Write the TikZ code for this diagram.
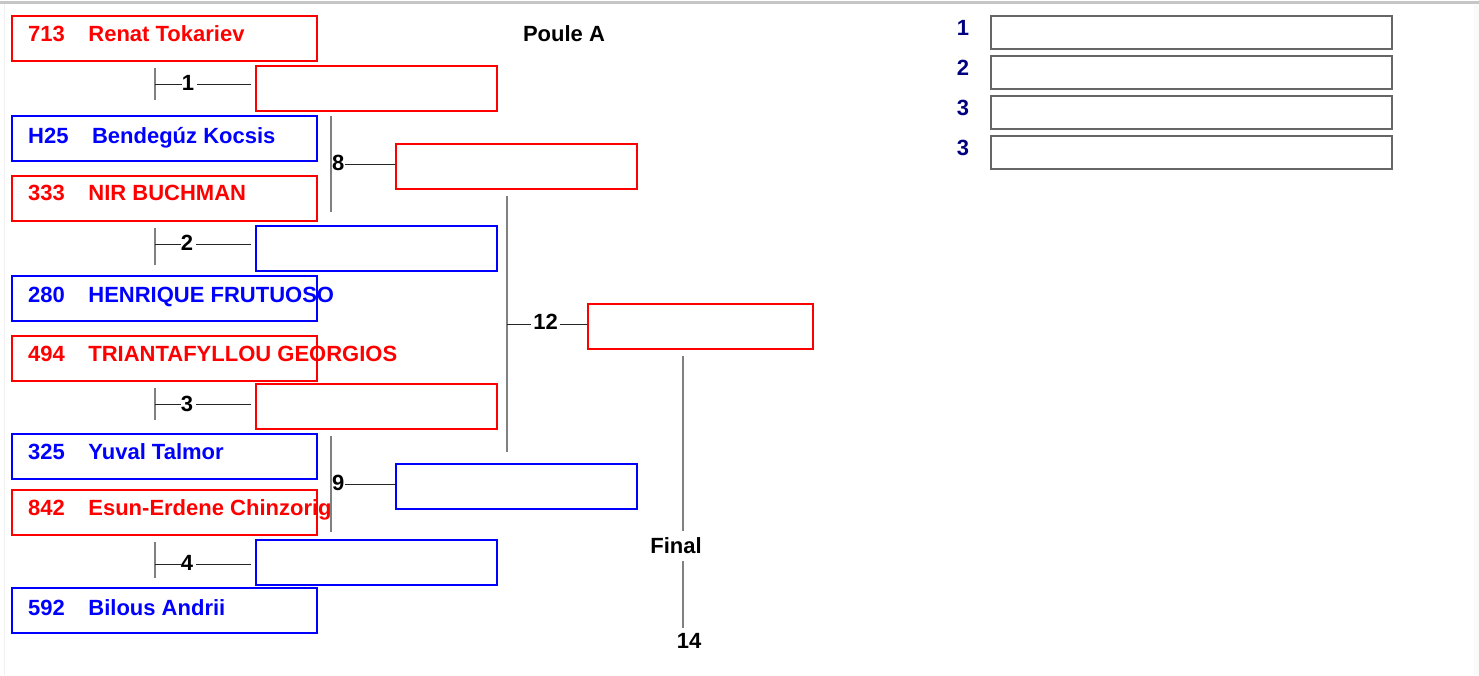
\documentclass[tikz,border=0pt]{standalone}
\usepackage{fontspec}
\setmainfont{Liberation Sans}
\usetikzlibrary{calc}
\definecolor{pred}{RGB}{255,0,0}
\definecolor{pblue}{RGB}{0,0,255}
\definecolor{navy}{RGB}{0,0,128}
\definecolor{lgray}{RGB}{128,128,128}
\definecolor{bgray}{RGB}{102,102,102}
\begin{document}
\begin{tikzpicture}[x=1pt,y=-1pt,
  txt/.style={font=\fontsize{22}{26}\selectfont\bfseries, inner sep=0pt},
  pbox/.style={draw, line width=2pt, minimum width=305pt, minimum height=45pt, anchor=north west, inner sep=0pt},
  wbox/.style={draw, line width=2pt, minimum width=241pt, minimum height=45pt, anchor=north west, inner sep=0pt},
  rbox/.style={draw=bgray, line width=2pt, minimum width=401pt, minimum height=33pt, anchor=north west, inner sep=0pt},
  gline/.style={draw=lgray, line width=1.5pt},
  hline/.style={draw=black!85, line width=1pt},
  ptxt/.style={txt, anchor=base west},
  lbl/.style={txt, text=black},
  rank/.style={txt, text=navy}]
\useasboundingbox (0,0) rectangle (1479,675);
\fill[white] (0,0) rectangle (1479,675);
\fill[gray!4] (1474,4) rectangle (1479,675);
\draw[gray!45, line width=2.5pt] (0,2.5) -- (1479,2.5);
\draw[gray!12, line width=1pt] (4,4) -- (4,675);

% player texts
\node[ptxt, text=pred]  (t1) at (28,41)    {713\hspace{23.5pt}Renat Tokariev};
\node[ptxt, text=pblue] (t2) at (28,143)   {H25\hspace{23.5pt}Bendegúz Kocsis};
\node[ptxt, text=pred]  (t3) at (28,200.5) {333\hspace{23.5pt}NIR BUCHMAN};
\node[ptxt, text=pblue] (t4) at (28,302.5) {280\hspace{23.5pt}HENRIQUE FRUTUOSO};
\node[ptxt, text=pred]  (t5) at (28,361.5) {494\hspace{23.5pt}TRIANTAFYLLOU GEORGIOS};
\node[ptxt, text=pblue] (t6) at (28,459.5) {325\hspace{23.5pt}Yuval Talmor};
\node[ptxt, text=pred]  (t7) at (28,515.5) {842\hspace{23.5pt}Esun-Erdene Chinzorig};
\node[ptxt, text=pblue] (t8) at (28,615)   {592\hspace{23.5pt}Bilous Andrii};

% player boxes
\node[pbox, draw=pred]  (p1) at (11,14.5)  {};
\node[pbox, draw=pblue] (p2) at (11,114.5) {};
\node[pbox, draw=pred]  (p3) at (11,174.5) {};
\node[pbox, draw=pblue] (p4) at (11,274.5) {};
\node[pbox, draw=pred]  (p5) at (11,334.5) {};
\node[pbox, draw=pblue] (p6) at (11,432.5) {};
\node[pbox, draw=pred]  (p7) at (11,488.5) {};
\node[pbox, draw=pblue] (p8) at (11,586.5) {};

% round 1 result boxes
\node[wbox, draw=pred]  (r1) at (255,64.5)  {};
\node[wbox, draw=pblue] (r2) at (255,224.5) {};
\node[wbox, draw=pred]  (r3) at (255,382.5) {};
\node[wbox, draw=pblue] (r4) at (255,538.5) {};
% round 2
\node[wbox, draw=pred]  (r8) at (395,142.5) {};
\node[wbox, draw=pblue] (r9) at (395,462.5) {};
% round 3
\node[wbox, draw=pred, minimum width=225pt] (r12) at (587,302.5) {};

% match 1-4 connectors
\coordinate (v1a) at (155,68);  \coordinate (v1b) at (155,100); \coordinate (a1) at (155,84);
\coordinate (v2a) at (155,228); \coordinate (v2b) at (155,265); \coordinate (a2) at (155,244);
\coordinate (v3a) at (155,388); \coordinate (v3b) at (155,420); \coordinate (a3) at (155,404);
\coordinate (v4a) at (155,542); \coordinate (v4b) at (155,578); \coordinate (a4) at (155,564);
\node[lbl] (l1) at (188,82.5) {1};
\node[lbl] (l2) at (187,243) {2};
\node[lbl] (l3) at (187,403.5) {3};
\node[lbl] (l4) at (187,562.5) {4};
\foreach \i in {1,2,3,4}{
  \draw[gline] (v\i a) -- (v\i b);
  \draw[hline] (a\i) -- (a\i -| l\i.west);
  \draw[hline] ($(a\i -| l\i.east)+(3,0)$) -- ($(a\i -| r\i.west)+(-4,0)$);
}

% match 8, 9
\coordinate (v8a) at (331,116); \coordinate (v8b) at (331,212); \coordinate (a8) at (331,164);
\coordinate (v9a) at (331,436); \coordinate (v9b) at (331,532); \coordinate (a9) at (331,484);
\draw[gline] (v8a) -- (v8b);
\draw[gline] (v9a) -- (v9b);
\node[lbl, anchor=west] (l8) at (332,162.5) {8};
\node[lbl, anchor=west] (l9) at (332,482.5) {9};
\draw[hline] (a8 -| l8.east) -- (a8 -| r8.west);
\draw[hline] (a9 -| l9.east) -- (a9 -| r9.west);

% match 12
\coordinate (v12a) at (507,196); \coordinate (v12b) at (507,452); \coordinate (a12) at (507,324);
\draw[gline] (v12a) -- (v12b);
\node[lbl] (l12) at (545.5,321.5) {12};
\draw[hline] (a12) -- ($(a12 -| l12.west)+(-2,0)$);
\draw[hline] ($(a12 -| l12.east)+(2,0)$) -- (a12 -| r12.west);

% final
\coordinate (fa) at (683,356);
\node[lbl] (fin) at (676,545.5) {Final};
\node[lbl] (f14) at (689,641) {14};
\draw[gline] (fa) -- ($(fa |- fin.north)+(0,-6)$);
\draw[gline] ($(fa |- fin.south)+(0,7)$) -- ($(fa |- f14.north)+(0,-5)$);

% title
\node[txt, anchor=base] (poule) at (564,41) {Poule A};

% ranking
\node[rbox] (k1) at (989.5,14.5)  {};
\node[rbox] (k2) at (989.5,54.5)  {};
\node[rbox] (k3) at (989.5,94.5)  {};
\node[rbox] (k4) at (989.5,134.5) {};
\node[rank] (n1) at (963,27.5)  {1};
\node[rank] (n2) at (963,68)  {2};
\node[rank] (n3) at (963,108) {3};
\node[rank] (n4) at (963,148) {3};
\end{tikzpicture}
\end{document}
